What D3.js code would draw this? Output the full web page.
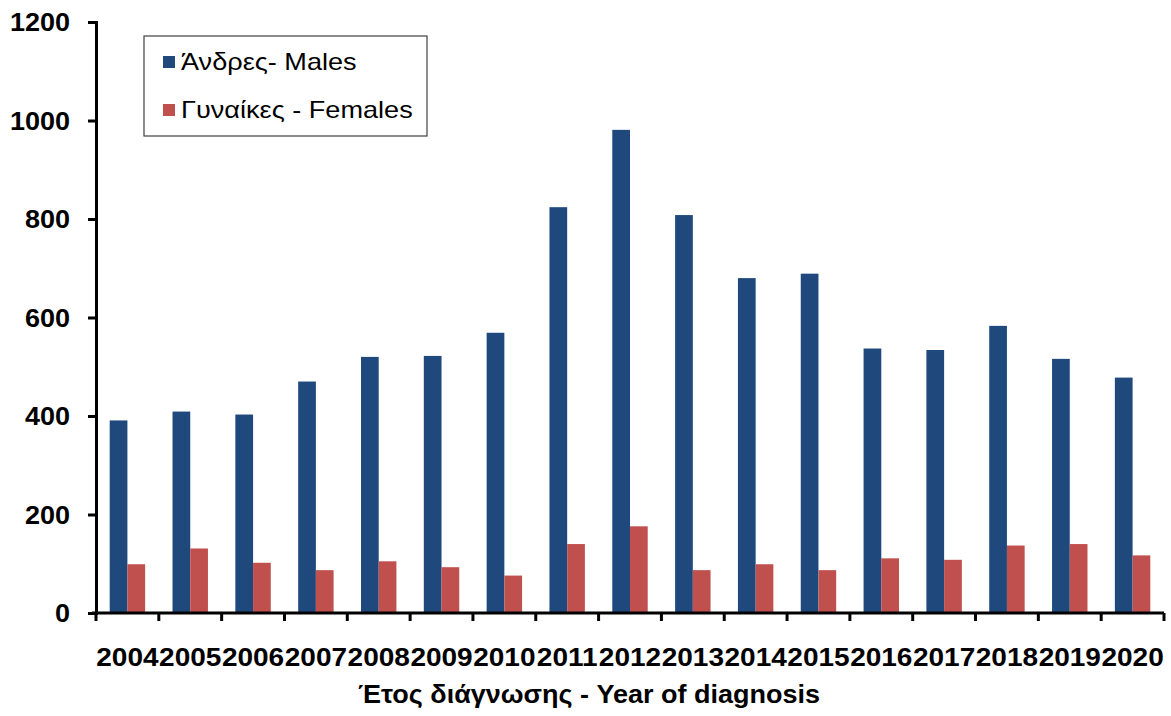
<!DOCTYPE html>
<html lang="el">
<head>
  <meta charset="UTF-8">
  <title>Year of diagnosis</title>
  <script src="https://d3js.org/d3.v7.min.js"></script>
  <style>
    body { margin: 0; background: #fff; }
    text { font-family: Arial, "Liberation Sans", sans-serif; fill: #000; }
  </style>
</head>
<body>
<div id="chart"></div>
<script>
  // data
  const years = ['2004','2005','2006','2007','2008','2009','2010','2011','2012',
                 '2013','2014','2015','2016','2017','2018','2019','2020']
  const males   = [391, 409, 403, 470, 520, 522, 569, 824, 981, 808, 680, 689, 537, 534, 583, 516, 478]
  const females = [ 99, 131, 102,  87, 105,  93,  76, 140, 176,  87,  99,  87, 111, 108, 137, 140, 117]
  const yTicks  = [0, 200, 400, 600, 800, 1000, 1200]
  const seriesNames = ['Άνδρες- Males', 'Γυναίκες - Females']
  const colors = ['#1F497D', '#C0504D']

  const width = 1171, height = 716
  const margin = {top: 22, right: 7, bottom: 103, left: 96}
  const sx = 1.08   // the source picture is a bit stretched sideways

  const svg = d3.select('#chart').append('svg')
    .attr('width', width)
    .attr('height', height)

  const x0 = d3.scaleBand()
    .domain(years)
    .range([margin.left, width - margin.right])
    .paddingInner(0.436)
    .paddingOuter(0.218)

  const x1 = d3.scaleBand()
    .domain([0, 1])
    .range([0, x0.bandwidth()])

  const y = d3.scaleLinear()
    .domain([0, 1200])
    .range([height - margin.bottom, margin.top])

  // bars
  const groups = svg.append('g').selectAll('g')
    .data(years)
    .join('g')
    .attr('transform', d => `translate(${x0(d)},0)`)

  groups.selectAll('rect')
    .data((d, i) => [males[i], females[i]])
    .join('rect')
    .attr('x', (d, i) => x1(i))
    .attr('width', x1.bandwidth())
    .attr('y', d => y(d))
    .attr('height', d => y(0) - y(d))
    .attr('fill', (d, i) => colors[i])

  // y axis
  const yAxis = svg.append('g')
    .attr('transform', `translate(${margin.left},0)`)
    .call(d3.axisLeft(y).tickValues(yTicks).tickSize(8).tickPadding(18).tickFormat(d3.format('d')))
  yAxis.select('.domain').attr('stroke', '#000').attr('stroke-width', 3)
  yAxis.selectAll('.tick line').attr('stroke', '#000').attr('stroke-width', 3)
  yAxis.selectAll('.tick text')
    .attr('font-size', 25).attr('font-weight', 'bold')
    .attr('text-anchor', 'end')
    .attr('dy', '0.35em')
    .each(function () {
      const t = d3.select(this)
      const xx = +t.attr('x')
      t.attr('x', null).attr('transform', `translate(${xx},0) scale(${sx},1)`)
    })

  // x axis: ticks on the category boundaries
  const bounds = years.map(d => x0(d) - x0.step() * x0.paddingInner() / 2)
  bounds.push(width - margin.right)
  const xAxis = svg.append('g')
  xAxis.append('line')
    .attr('x1', margin.left - 4).attr('x2', width - margin.right)
    .attr('y1', y(0)).attr('y2', y(0))
    .attr('stroke', '#000').attr('stroke-width', 3)
  xAxis.selectAll('.xt')
    .data(bounds)
    .join('line')
    .attr('class', 'xt')
    .attr('x1', d => d).attr('x2', d => d)
    .attr('y1', y(0)).attr('y2', y(0) + 8)
    .attr('stroke', '#000').attr('stroke-width', 3)
  xAxis.selectAll('.xl')
    .data(years)
    .join('text')
    .attr('class', 'xl')
    .attr('transform', d => `translate(${x0(d) + x0.bandwidth() / 2},666) scale(1.12,1)`)
    .attr('text-anchor', 'middle')
    .attr('font-size', 25).attr('font-weight', 'bold')
    .text(d => d)

  // axis title
  svg.append('text')
    .attr('transform', `translate(589,703) scale(${sx},1)`)
    .attr('text-anchor', 'middle')
    .attr('font-size', 25).attr('font-weight', 'bold')
    .text('Έτος διάγνωσης - Year of diagnosis')

  // legend
  const legend = svg.append('g').attr('transform', 'translate(144,36)')
  legend.append('rect')
    .attr('width', 283).attr('height', 100)
    .attr('fill', '#fff').attr('stroke', '#404040').attr('stroke-width', 1.2)
  const items = legend.selectAll('.item')
    .data(seriesNames)
    .join('g')
    .attr('class', 'item')
    .attr('transform', (d, i) => `translate(19,${20 + i * 48})`)
  items.append('rect')
    .attr('width', 12).attr('height', 12)
    .attr('fill', (d, i) => colors[i])
  items.append('text')
    .attr('transform', 'translate(18,14) scale(1.13,1)')
    .attr('font-size', 24)
    .text(d => d)
</script>
</body>
</html>
